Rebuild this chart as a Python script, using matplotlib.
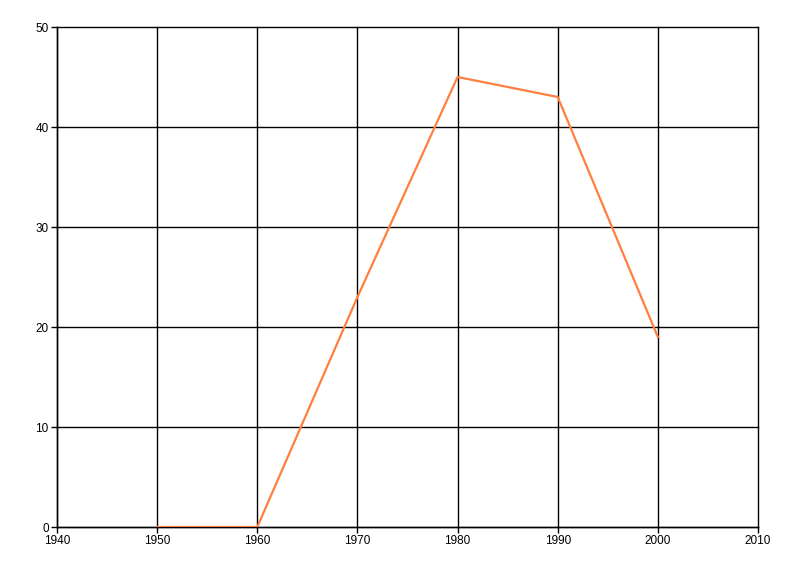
import matplotlib
matplotlib.use('Agg')
import matplotlib.pyplot as plt

# data
years = [1950, 1960, 1970, 1980, 1990, 2000]
values = [0, 0, 23, 45, 43, 19]

x_ticks = [1940, 1950, 1960, 1970, 1980, 1990, 2000, 2010]
y_ticks = [0, 10, 20, 30, 40, 50]

plt.rcParams['font.family'] = ['Liberation Sans', 'DejaVu Sans']

fig = plt.figure(figsize=(8, 5.76), dpi=100)
ax = fig.add_axes([57 / 800, 49 / 576, 701 / 800, 500 / 576])

ax.plot(years, values, color='#FF7F40', linewidth=1.6, zorder=3)

ax.set_xlim(1940, 2010)
ax.set_ylim(0, 50)
ax.set_xticks(x_ticks)
ax.set_yticks(y_ticks)
ax.tick_params(labelsize=8.5, length=4, width=1, color='black', pad=2)

ax.grid(True, color='black', linewidth=1)
ax.set_axisbelow(True)
# keep the edge grid lines (2010, 50) fully drawn
for line in ax.get_xgridlines() + ax.get_ygridlines():
    line.set_clip_on(False)
for side in ['top', 'right']:
    ax.spines[side].set_visible(False)
for side in ['left', 'bottom']:
    ax.spines[side].set_linewidth(1)

fig.savefig('out.png', dpi=100)
